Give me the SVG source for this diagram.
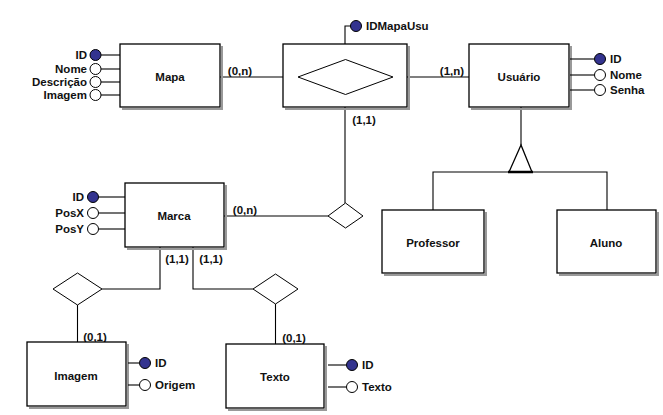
<svg xmlns="http://www.w3.org/2000/svg" width="663" height="415" viewBox="0 0 663 415">
<style>
text{font-family:"Liberation Sans",Arial,sans-serif;font-weight:bold;font-size:11.5px;fill:#111}
.box{fill:#fff;stroke:#000;stroke-width:1.3}
.sh{fill:none;stroke:#999;stroke-width:2}
.ln{fill:none;stroke:#000;stroke-width:1.1}
.dia{fill:#fff;stroke:#000;stroke-width:1}
.pk{fill:#33338f;stroke:#000;stroke-width:1}
.at{fill:#fff;stroke:#000;stroke-width:1}
.c{text-anchor:middle}
.r{text-anchor:end}
</style>
<rect width="663" height="415" fill="#fff"/>
<g id="connectors">
<line class="ln" x1="220" y1="77" x2="283" y2="77"/>
<line class="ln" x1="407" y1="77" x2="469" y2="77"/>
<polyline class="ln" points="345,44 345,26 352,26"/>
<line class="ln" x1="345" y1="107" x2="345" y2="203"/>
<line class="ln" x1="224" y1="216" x2="328" y2="216"/>
<polyline class="ln" points="160,247 160,289 102,289"/>
<polyline class="ln" points="193,247 193,289 253,289"/>
<line class="ln" x1="77.5" y1="305" x2="77.5" y2="342"/>
<line class="ln" x1="275.5" y1="304" x2="275.5" y2="344"/>
<line class="ln" x1="521" y1="107" x2="521" y2="145"/>
<polyline class="ln" points="433,210 433,172 607,172 607,210"/>
<polygon points="521,145 509,172 532,172" fill="#fff" stroke="#000" stroke-width="1.3"/>
<line x1="508" y1="172" x2="533" y2="172" stroke="#000" stroke-width="2.5"/>
<text x="240" y="75" class="c">(0,n)</text>
<text x="452" y="75" class="c">(1,n)</text>
<text x="364" y="124" class="c">(1,1)</text>
<text x="245" y="214" class="c">(0,n)</text>
<text x="177" y="263" class="c">(1,1)</text>
<text x="211" y="263" class="c">(1,1)</text>
<text x="95" y="341" class="c">(0,1)</text>
<text x="294" y="342" class="c">(0,1)</text>
</g>
<g id="mapa">
<path class="sh" d="M222,46 V109 H122"/>
<rect class="box" x="120" y="44" width="100" height="63"/>
<text x="170" y="81" class="c">Mapa</text>
<g class="ln"><line x1="101" y1="55" x2="120" y2="55"/><line x1="101" y1="69" x2="120" y2="69"/><line x1="101" y1="82" x2="120" y2="82"/><line x1="101" y1="95" x2="120" y2="95"/></g>
<circle class="pk" cx="95.5" cy="55" r="5.5"/>
<circle class="at" cx="95.5" cy="69" r="5.5"/>
<circle class="at" cx="95.5" cy="82" r="5.5"/>
<circle class="at" cx="95.5" cy="95" r="5.5"/>
<text x="87" y="59" class="r">ID</text>
<text x="87" y="73" class="r">Nome</text>
<text x="87" y="86" class="r">Descrição</text>
<text x="87" y="99" class="r">Imagem</text>
</g>
<g id="mapausu">
<path class="sh" d="M409,46 V109 H285"/>
<rect class="box" x="283" y="44" width="124" height="63"/>
<polygon class="dia" points="298,77 345.5,59.5 393,77 345.5,94.5"/>
<circle class="pk" cx="356" cy="26" r="5.5"/>
<text x="366" y="30">IDMapaUsu</text>
</g>
<g id="usuario">
<path class="sh" d="M571,46 V109 H471"/>
<rect class="box" x="469" y="44" width="100" height="63"/>
<text x="519" y="81" class="c">Usuário</text>
<g class="ln"><line x1="570" y1="59" x2="594" y2="59"/><line x1="570" y1="75" x2="594" y2="75"/><line x1="570" y1="90" x2="594" y2="90"/></g>
<circle class="pk" cx="600" cy="59" r="5.5"/>
<circle class="at" cx="600" cy="75" r="5.5"/>
<circle class="at" cx="600" cy="90" r="5.5"/>
<text x="610" y="63">ID</text>
<text x="610" y="79">Nome</text>
<text x="610" y="94">Senha</text>
</g>
<g id="rel-marca-mapausu">
<polygon class="dia" points="328,216 345.5,203 363,216 345.5,228"/>
</g>
<g id="marca">
<path class="sh" d="M226,185 V249 H127"/>
<rect class="box" x="125" y="183" width="99" height="64"/>
<text x="174" y="220" class="c">Marca</text>
<g class="ln"><line x1="99" y1="197" x2="125" y2="197"/><line x1="99" y1="213" x2="125" y2="213"/><line x1="99" y1="229" x2="125" y2="229"/></g>
<circle class="pk" cx="93" cy="197" r="5.5"/>
<circle class="at" cx="93" cy="213" r="5.5"/>
<circle class="at" cx="93" cy="229" r="5.5"/>
<text x="84" y="201" class="r">ID</text>
<text x="84" y="217" class="r">PosX</text>
<text x="84" y="233" class="r">PosY</text>
</g>
<g id="rel-imagem">
<polygon class="dia" points="53,289 77.5,273 102,289 77.5,305"/>
</g>
<g id="rel-texto">
<polygon class="dia" points="253,289 275.5,274 298,289 275.5,304"/>
</g>
<g id="imagem">
<path class="sh" d="M128,344 V408 H29"/>
<rect class="box" x="27" y="342" width="99" height="64"/>
<text x="76" y="380" class="c">Imagem</text>
<g class="ln"><line x1="128" y1="363" x2="139" y2="363"/><line x1="128" y1="385" x2="139" y2="385"/></g>
<circle class="pk" cx="145" cy="363" r="5.5"/>
<circle class="at" cx="145" cy="385" r="5.5"/>
<text x="155" y="367">ID</text>
<text x="155" y="389">Origem</text>
</g>
<g id="texto">
<path class="sh" d="M326,346 V410 H228"/>
<rect class="box" x="226" y="344" width="98" height="64"/>
<text x="275" y="381" class="c">Texto</text>
<g class="ln"><line x1="328" y1="365" x2="346" y2="365"/><line x1="328" y1="387" x2="346" y2="387"/></g>
<circle class="pk" cx="352" cy="365" r="5.5"/>
<circle class="at" cx="352" cy="387" r="5.5"/>
<text x="362" y="369">ID</text>
<text x="362" y="391">Texto</text>
</g>
<g id="professor">
<path class="sh" d="M486,212 V275 H384"/>
<rect class="box" x="382" y="210" width="102" height="63"/>
<text x="433" y="247" class="c">Professor</text>
</g>
<g id="aluno">
<path class="sh" d="M658,212 V275 H559"/>
<rect class="box" x="557" y="210" width="99" height="63"/>
<text x="606" y="247" class="c">Aluno</text>
</g>
</svg>
